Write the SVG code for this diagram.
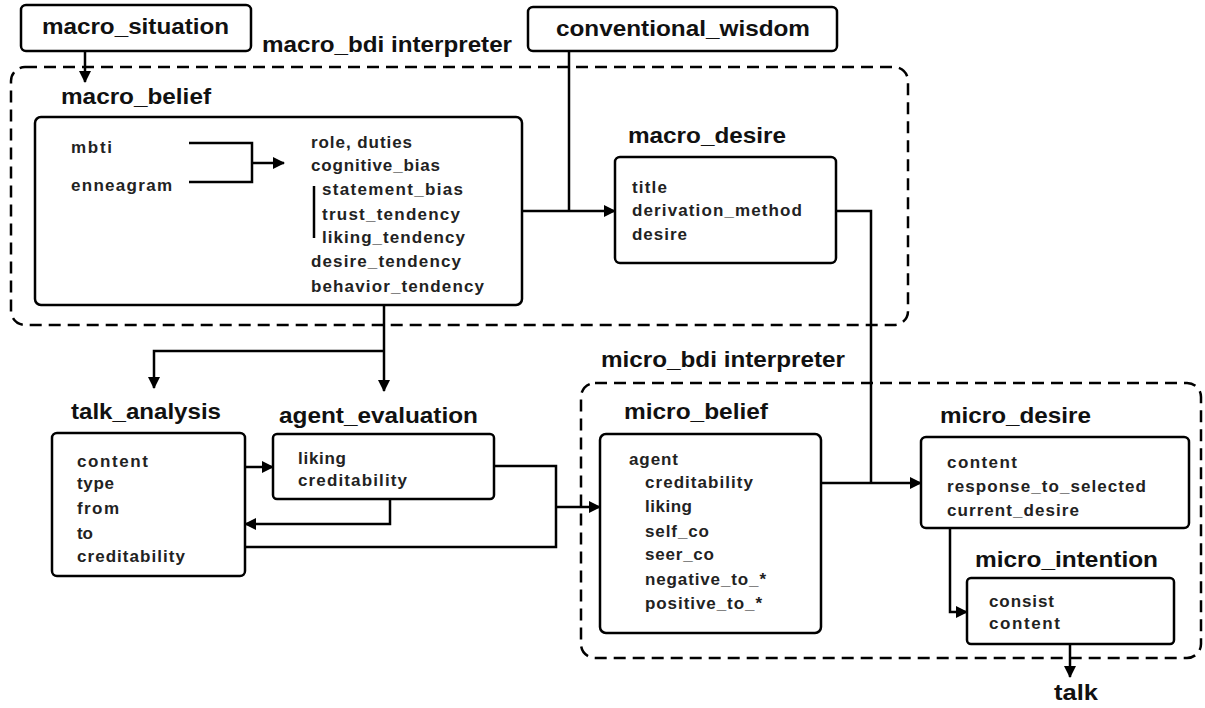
<svg xmlns="http://www.w3.org/2000/svg" width="1205" height="708" viewBox="0 0 1205 708">
<defs>
<style>
.box{fill:#fff;stroke:#000;stroke-width:2.5}
.dash{fill:none;stroke:#000;stroke-width:2.5;stroke-dasharray:12 7}
.ln{fill:none;stroke:#000;stroke-width:2.5}
.lbl{font-family:"Liberation Sans",Arial,sans-serif;font-weight:bold;font-size:22px;fill:#111}
.txt{font-family:"Liberation Sans",Arial,sans-serif;font-weight:bold;font-size:17px;fill:#222}
</style>
<marker id="ah" markerUnits="userSpaceOnUse" markerWidth="12" markerHeight="12" viewBox="0 0 12 12" refX="11" refY="6" orient="auto">
<path d="M0,0 L12,6 L0,12 Z" fill="#000"/>
</marker>
</defs>
<rect width="1205" height="708" fill="#fff"/>

<g id="macro_bdi">
<rect class="dash" x="11" y="67" width="897" height="258" rx="14"/>
<text class="lbl" x="262" y="52" textLength="250" lengthAdjust="spacingAndGlyphs">macro_bdi interpreter</text>
</g>
<g id="micro_bdi">
<rect class="dash" x="581" y="383" width="620" height="275" rx="14"/>
<text class="lbl" x="601" y="367" textLength="244" lengthAdjust="spacingAndGlyphs">micro_bdi interpreter</text>
</g>

<g id="macro_situation">
<rect class="box" x="21" y="5" width="230" height="46" rx="5"/>
<text class="lbl" x="42" y="34" textLength="187" lengthAdjust="spacingAndGlyphs">macro_situation</text>
</g>
<g id="conventional_wisdom">
<rect class="box" x="528" y="7" width="309" height="44" rx="5"/>
<text class="lbl" x="556" y="36" textLength="254" lengthAdjust="spacingAndGlyphs">conventional_wisdom</text>
</g>

<g id="macro_belief">
<text class="lbl" x="61" y="104" textLength="150" lengthAdjust="spacingAndGlyphs">macro_belief</text>
<rect class="box" x="35" y="117" width="487" height="188" rx="6"/>
<text class="txt" x="71" y="153" textLength="41">mbti</text>
<text class="txt" x="71" y="191" textLength="101">enneagram</text>
<text class="txt" x="311" y="148" textLength="101">role, duties</text>
<text class="txt" x="311" y="171" textLength="129">cognitive_bias</text>
<text class="txt" x="322" y="195" textLength="141">statement_bias</text>
<text class="txt" x="322" y="220" textLength="138">trust_tendency</text>
<text class="txt" x="322" y="243" textLength="143">liking_tendency</text>
<text class="txt" x="311" y="267" textLength="150">desire_tendency</text>
<text class="txt" x="311" y="292" textLength="173">behavior_tendency</text>
<polyline class="ln" points="189,143 252,143 252,182 189,182"/>
<line class="ln" x1="252" y1="163" x2="284" y2="163" marker-end="url(#ah)"/>
<line class="ln" x1="314" y1="186" x2="314" y2="238" stroke-width="3"/>
</g>

<g id="macro_desire">
<text class="lbl" x="628" y="143" textLength="158" lengthAdjust="spacingAndGlyphs">macro_desire</text>
<rect class="box" x="615" y="157" width="221" height="106" rx="5"/>
<text class="txt" x="632" y="193" textLength="35">title</text>
<text class="txt" x="632" y="216" textLength="170">derivation_method</text>
<text class="txt" x="632" y="240" textLength="55">desire</text>
</g>

<g id="talk_analysis">
<text class="lbl" x="71" y="419" textLength="150" lengthAdjust="spacingAndGlyphs">talk_analysis</text>
<rect class="box" x="52" y="433" width="193" height="143" rx="5"/>
<text class="txt" x="77" y="467" textLength="71">content</text>
<text class="txt" x="77" y="489" textLength="37">type</text>
<text class="txt" x="77" y="514" textLength="42">from</text>
<text class="txt" x="77" y="539" textLength="16">to</text>
<text class="txt" x="77" y="562" textLength="108">creditability</text>
</g>

<g id="agent_evaluation">
<text class="lbl" x="279" y="423" textLength="199" lengthAdjust="spacingAndGlyphs">agent_evaluation</text>
<rect class="box" x="273" y="434" width="221" height="65" rx="4"/>
<text class="txt" x="298" y="464" textLength="48">liking</text>
<text class="txt" x="298" y="486" textLength="109">creditability</text>
</g>

<g id="micro_belief">
<text class="lbl" x="624" y="419" textLength="144" lengthAdjust="spacingAndGlyphs">micro_belief</text>
<rect class="box" x="600" y="434" width="221" height="199" rx="6"/>
<text class="txt" x="629" y="465" textLength="49">agent</text>
<text class="txt" x="645" y="488" textLength="108">creditability</text>
<text class="txt" x="645" y="512" textLength="47">liking</text>
<text class="txt" x="645" y="537" textLength="64">self_co</text>
<text class="txt" x="645" y="560" textLength="69">seer_co</text>
<text class="txt" x="645" y="585" textLength="121">negative_to_*</text>
<text class="txt" x="645" y="609" textLength="117">positive_to_*</text>
</g>

<g id="micro_desire">
<text class="lbl" x="940" y="423" textLength="151" lengthAdjust="spacingAndGlyphs">micro_desire</text>
<rect class="box" x="921" y="437" width="268" height="91" rx="5"/>
<text class="txt" x="947" y="468" textLength="70">content</text>
<text class="txt" x="947" y="492" textLength="199">response_to_selected</text>
<text class="txt" x="947" y="516" textLength="132">current_desire</text>
</g>

<g id="micro_intention">
<text class="lbl" x="975" y="567" textLength="183" lengthAdjust="spacingAndGlyphs">micro_intention</text>
<rect class="box" x="967" y="578" width="207" height="66" rx="4"/>
<text class="txt" x="989" y="607" textLength="65">consist</text>
<text class="txt" x="989" y="629" textLength="71">content</text>
</g>

<g id="talk">
<text class="lbl" x="1054" y="700" textLength="44" lengthAdjust="spacingAndGlyphs">talk</text>
</g>

<g id="connectors">
<line class="ln" x1="85" y1="51" x2="85" y2="82" marker-end="url(#ah)"/>
<line class="ln" x1="569" y1="51" x2="569" y2="211"/>
<line class="ln" x1="522" y1="211" x2="615" y2="211" marker-end="url(#ah)"/>
<polyline class="ln" points="836,211 871,211 871,483"/>
<line class="ln" x1="821" y1="483" x2="921" y2="483" marker-end="url(#ah)"/>
<line class="ln" x1="384" y1="305" x2="384" y2="391" marker-end="url(#ah)"/>
<polyline class="ln" points="384,351 154,351 154,388" marker-end="url(#ah)"/>
<line class="ln" x1="245" y1="467" x2="273" y2="467" marker-end="url(#ah)"/>
<polyline class="ln" points="390,499 390,524 245,524" marker-end="url(#ah)"/>
<polyline class="ln" points="494,466 556,466 556,547 245,547"/>
<line class="ln" x1="556" y1="507" x2="600" y2="507" marker-end="url(#ah)"/>
<polyline class="ln" points="950,528 950,612 967,612" marker-end="url(#ah)"/>
<line class="ln" x1="1070" y1="644" x2="1070" y2="677" marker-end="url(#ah)"/>
</g>
</svg>
